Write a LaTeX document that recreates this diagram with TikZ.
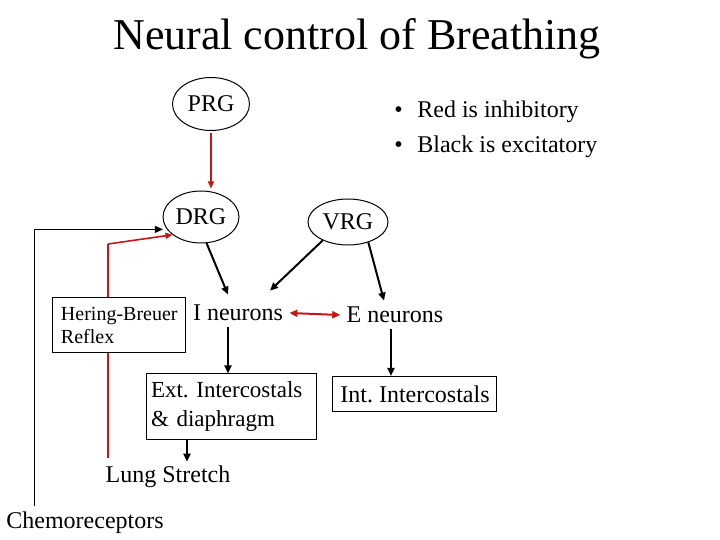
\documentclass[tikz,border=0pt]{standalone}
\usepackage{fontspec}
\setmainfont{Liberation Serif}
\usepackage{tikz}
\usetikzlibrary{positioning,arrows.meta,shapes.geometric,calc}
\definecolor{inhib}{RGB}{200,20,20}

\begin{document}
\frenchspacing
\begin{tikzpicture}[
  x=0.5pt, y=-0.5pt,
  ell/.style={ellipse, draw=black, line width=0.5pt, inner sep=0pt,
              font=\fontsize{12}{14}\selectfont, minimum width=#1},
  box/.style={rectangle, draw=black, line width=0.5pt, fill=white, align=left},
  lbl/.style={font=\fontsize{12}{14}\selectfont, inner sep=3pt},
  ar/.style={-{Triangle[length=4pt,width=3.5pt]}, line width=1pt, #1},
  inh/.style={-{Triangle[length=3.5pt,width=3pt]}, line width=0.8pt, draw=inhib},
]
\useasboundingbox (0,0) rectangle (720,540);

\node[font=\fontsize{22}{26}\selectfont, inner sep=0pt] (title) at (357,39) {Neural control of Breathing};

% centres
\node[ell=38.5pt, minimum height=26.5pt] (prg) at (211,104) {PRG};
\node[ell=38pt, minimum height=26pt]     (drg) at (201,217) {DRG};
\node[ell=40pt, minimum height=23pt]     (vrg) at (348,222) {VRG};

\node[lbl] (ineur) at (238,313) {I neurons};
\node[lbl] (eneur) at (395,315) {E neurons};

\node[box, font=\fontsize{11.5}{14.5}\selectfont, inner xsep=2pt, inner ysep=0pt,
      text width=81pt, minimum height=33pt] (ext) at (232,407) {Ext. Intercostals\\\& diaphragm};
\node[box, font=\fontsize{12}{14}\selectfont, inner sep=0pt,
      minimum width=82pt, minimum height=17.5pt, align=center] (int) at (415,394) {Int. Intercostals};

\node[lbl] (lung)  at (168,477) {Lung Stretch};
\node[lbl] (chemo) at (85,523)  {Chemoreceptors};

% legend
\node[lbl, anchor=west, inner sep=0pt] (leg1) at (394,112) {\makebox[11.5pt][l]{\textbullet}Red is inhibitory};
\node[lbl, anchor=west, inner sep=0pt] (leg2) at (394,147) {\makebox[11.5pt][l]{\textbullet}Black is excitatory};

% connectors
\draw[inh] ([yshift=-1pt]prg.south) -- ([yshift=1pt]prg.south |- drg.north);
\draw[ar=black] (drg.282) -- ([xshift=-5pt,yshift=2pt]ineur.north);
\draw[ar=black] (vrg.216) -- ([xshift=16pt,yshift=4pt]ineur.north);
\draw[ar=black] (vrg.-45) -- ([xshift=-5.5pt]eneur.north);
\draw[inh, line width=1pt, {Triangle[length=4pt,width=3.5pt]}-{Triangle[length=4pt,width=3.5pt]}] (ineur.east) -- (eneur.west);
\draw[ar=black] ([xshift=-5pt]ineur.south) -- ([xshift=-5pt]ineur.south |- ext.north);
\draw[ar=black] ([xshift=9.5pt]lung.north |- ext.south) -- ([xshift=9.5pt,yshift=-1pt]lung.north);
\draw[ar=black] ([xshift=-2pt]eneur.south) -- ([xshift=-2pt]eneur.south |- int.north);

\draw[-{Triangle[length=4pt,width=3.5pt]}, line width=0.5pt] ([xshift=-25pt]chemo.north) |- ([xshift=-2pt]drg.200);

\coordinate (hbturn) at (108,244);
\draw[draw=inhib, line width=0.6pt] ([xshift=-30pt,yshift=1pt]lung.north) -- (hbturn);
\draw[inh] (hbturn) -- (drg.212);

\node[box, font=\fontsize{10}{11.5}\selectfont, inner xsep=4pt, inner ysep=0pt,
      text width=58.5pt, minimum height=27.5pt] (hb) at (119.5,325.5) {Hering-Breuer\\Reflex};

\end{tikzpicture}
\end{document}
